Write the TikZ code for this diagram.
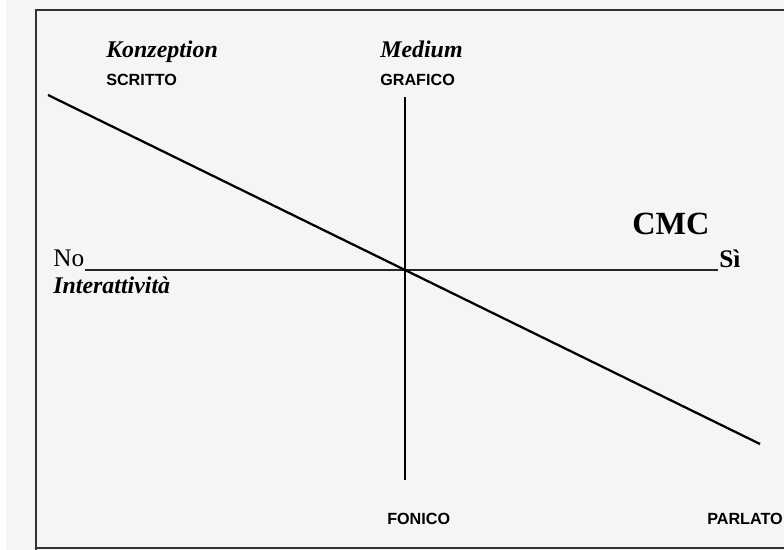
\documentclass[tikz,border=0pt]{standalone}
\usepackage{fontspec}
\setmainfont{Liberation Serif}
\setsansfont{Liberation Sans}
\definecolor{paper}{RGB}{245,245,245}

\begin{document}
\begin{tikzpicture}[x=0.025cm, y=-0.025cm,
    every node/.style={inner sep=0pt, anchor=base west},
    heading/.style={font=\fontsize{17}{17}\selectfont\bfseries\itshape},
    pole/.style={font=\fontsize{11.5}{11.5}\selectfont\sffamily\bfseries}]
            % paper and frame
            \useasboundingbox (0,0) rectangle (784,550);
            \fill[paper] (0,0) rectangle (784,550);
            \fill[white] (0,0) rectangle (6,550);
            \draw[black!80, line width=1.1pt] (36,550) -- (36,10) -- (784,10)
                  (36,548) -- (784,548);
            % end points of the axes
            \coordinate (top) at (405,97);
            \coordinate (bottom) at (405,480);
            \coordinate (left) at (85,270);
            \coordinate (right) at (718,270);
            \coordinate (nw) at (48,95);
            \coordinate (se) at (760,444);
            % axes
            \draw[line width=1.4pt] (top) -- (bottom);
            \draw[black!85, line width=1.1pt] (left) -- (right);
            \draw[line width=1.6pt] (nw) -- (se);
            % labels
            \node[heading] (konzeption) at (106,58) {Konzeption};
            \node[pole] (scritto) at (106,86) {SCRITTO};
            \node[heading] (medium) at (380,58) {Medium};
            \node[pole] (grafico) at (380,86) {GRAFICO};
            \node[font=\fontsize{18}{18}\selectfont] (no) at (53,267) {No};
            \node[heading] (interattivita) at (53,294) {Interattività};
            \node[font=\fontsize{23}{23}\selectfont\bfseries] (cmc) at (632,235) {CMC};
            \node[font=\fontsize{18}{18}\selectfont\bfseries] (si) at (719,268) {Sì};
            \node[pole] (fonico) at (387,524) {FONICO};
            \node[pole] (parlato) at (707,524) {PARLATO};
        \end{tikzpicture}
\end{document}
